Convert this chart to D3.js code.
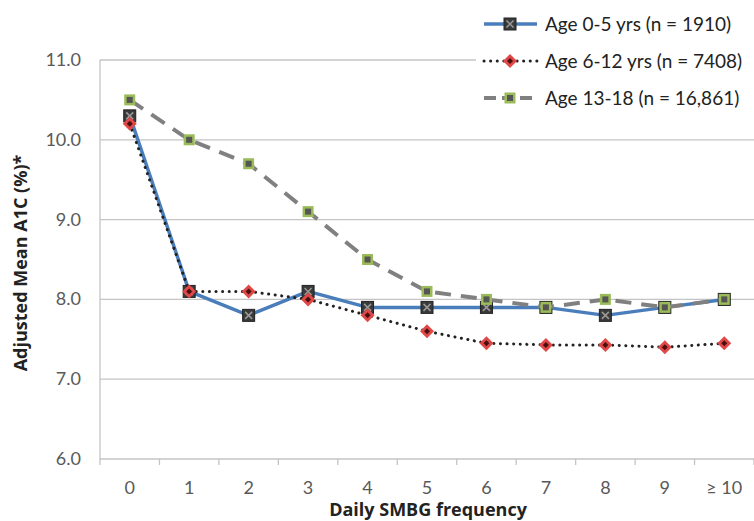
<!DOCTYPE html>
<html>
<head>
<meta charset="utf-8">
<script src="https://cdn.jsdelivr.net/npm/d3@7"></script>
<style>
  html, body { margin: 0; padding: 0; background: #fff; }
  svg { display: block; }
  text { font-family: Lato, "Open Sans", sans-serif; }
</style>
</head>
<body>
<svg id="chart" width="754" height="521"></svg>
<script>
const categories = ["0", "1", "2", "3", "4", "5", "6", "7", "8", "9", "\u2265 10"];
const age0to5 = [10.3, 8.1, 7.8, 8.1, 7.9, 7.9, 7.9, 7.9, 7.8, 7.9, 8.0];
const age6to12 = [10.2, 8.1, 8.1, 8.0, 7.8, 7.6, 7.45, 7.43, 7.43, 7.4, 7.45];
const age13to18 = [10.5, 10.0, 9.7, 9.1, 8.5, 8.1, 8.0, 7.9, 8.0, 7.9, 8.0];
const seriesNames = ["Age 0-5 yrs (n = 1910)", "Age 6-12 yrs (n = 7408)", "Age 13-18 (n = 16,861)"];
const yTicks = [6, 7, 8, 9, 10, 11];
const xTitle = "Daily SMBG frequency";
const yTitle = "Adjusted Mean A1C (%)*";

(function () {
const svg = d3.select("#chart");
const pLeft = 100, pRight = 754, pTop = 60, pBottom = 459;

const x = d3.scaleBand().domain(categories).range([pLeft, pRight]);
const y = d3.scaleLinear().domain([6, 11]).range([pBottom, pTop]);

// gridlines
svg.append("g").selectAll("line").data(yTicks).join("line")
  .attr("x1", pLeft).attr("x2", pRight)
  .attr("y1", d => y(d)).attr("y2", d => y(d))
  .attr("stroke", "#c4c4c4").attr("stroke-width", 1.3);

// y axis line
svg.append("line").attr("x1", pLeft).attr("x2", pLeft)
  .attr("y1", pTop).attr("y2", pBottom + 6)
  .attr("stroke", "#c4c4c4").attr("stroke-width", 1.3);

// x ticks
const xt = d3.range(1, categories.length + 1).map(i => pLeft + i * x.step());
svg.append("g").selectAll("line").data(xt).join("line")
  .attr("x1", d => d).attr("x2", d => d)
  .attr("y1", pBottom).attr("y2", pBottom + 6)
  .attr("stroke", "#c4c4c4").attr("stroke-width", 1.3);

// y tick labels
svg.append("g").selectAll("text").data(yTicks).join("text")
  .attr("x", 81).attr("y", d => y(d) + 6)
  .attr("text-anchor", "end")
  .attr("font-size", 18).attr("fill", "#595959")
  .text(d => d.toFixed(1));

// x tick labels
svg.append("g").selectAll("text").data(categories).join("text")
  .attr("x", d => x(d) + x.bandwidth() / 2).attr("y", 494)
  .attr("text-anchor", "middle")
  .attr("font-size", 18).attr("fill", "#595959")
  .text(d => d);

// axis titles
svg.append("text").attr("x", 428).attr("y", 516)
  .attr("text-anchor", "middle").attr("font-size", 18).attr("font-weight", "bold")
  .style("font-family", "'Open Sans', sans-serif")
  .attr("fill", "#222").text(xTitle);
svg.append("text").attr("transform", "translate(27,263) rotate(-90)")
  .attr("text-anchor", "middle").attr("font-size", 18).attr("font-weight", "bold")
  .style("font-family", "'Open Sans', sans-serif")
  .attr("fill", "#222").text(yTitle);

const cx = (d, i) => x(categories[i]) + x.bandwidth() / 2;
const line = d3.line().x((d, i) => cx(d, i)).y(d => y(d));

const styles = [
  { color: "#4a7ebb", width: 3.5, dash: null, cap: "butt" },
  { color: "#222", width: 3, dash: "0.1 6.5", cap: "round" },
  { color: "#808080", width: 4, dash: "16 10", cap: "butt" }
];
const datasets = [age0to5, age6to12, age13to18];

function marker(g, type, px, py) {
  if (type === 0) {
    g.append("rect").attr("x", px - 6).attr("y", py - 6).attr("width", 12).attr("height", 12)
      .attr("fill", "#3a3a3a").attr("stroke", "#222").attr("stroke-width", 1);
    g.append("path").attr("d", `M${px-3.5},${py-3.5}L${px+3.5},${py+3.5}M${px+3.5},${py-3.5}L${px-3.5},${py+3.5}`)
      .attr("stroke", "#9a9a9a").attr("stroke-width", 1.5);
  } else if (type === 1) {
    g.append("path").attr("d", `M${px},${py-7}L${px+7},${py}L${px},${py+7}L${px-7},${py}Z`)
      .attr("fill", "#e04848");
    g.append("path").attr("d", `M${px},${py-3}L${px+3},${py}L${px},${py+3}L${px-3},${py}Z`)
      .attr("fill", "#4a1010");
  } else {
    g.append("rect").attr("x", px - 5.5).attr("y", py - 5.5).attr("width", 11).attr("height", 11)
      .attr("fill", "#9bbb59");
    g.append("rect").attr("x", px - 3).attr("y", py - 3).attr("width", 6).attr("height", 6)
      .attr("fill", "#555");
  }
}

datasets.forEach((data, s) => {
  const st = styles[s];
  const g = svg.append("g");
  g.append("path").datum(data).attr("d", line)
    .attr("fill", "none").attr("stroke", st.color).attr("stroke-width", st.width)
    .attr("stroke-dasharray", st.dash).attr("stroke-linecap", st.cap)
    .attr("stroke-linejoin", "round");
  data.forEach((v, i) => marker(g, s, cx(v, i), y(v)));
});

// legend
const lg = svg.append("g");
lg.append("rect").attr("x", 476).attr("y", 4).attr("width", 278).attr("height", 112).attr("fill", "#fff");
const rows = [24, 61, 98];
seriesNames.forEach((name, s) => {
  const st = styles[s];
  const yy = rows[s];
  lg.append("line").attr("x1", 484).attr("x2", 537).attr("y1", yy).attr("y2", yy)
    .attr("stroke", st.color).attr("stroke-width", st.width)
    .attr("stroke-dasharray", s === 2 ? "12 6" : st.dash).attr("stroke-linecap", st.cap);
  marker(lg, s, 510, yy);
  lg.append("text").attr("x", 545).attr("y", yy + 6.5).attr("font-size", 19)
    .attr("fill", "#222").text(name);
});
})();
</script>
</body>
</html>
